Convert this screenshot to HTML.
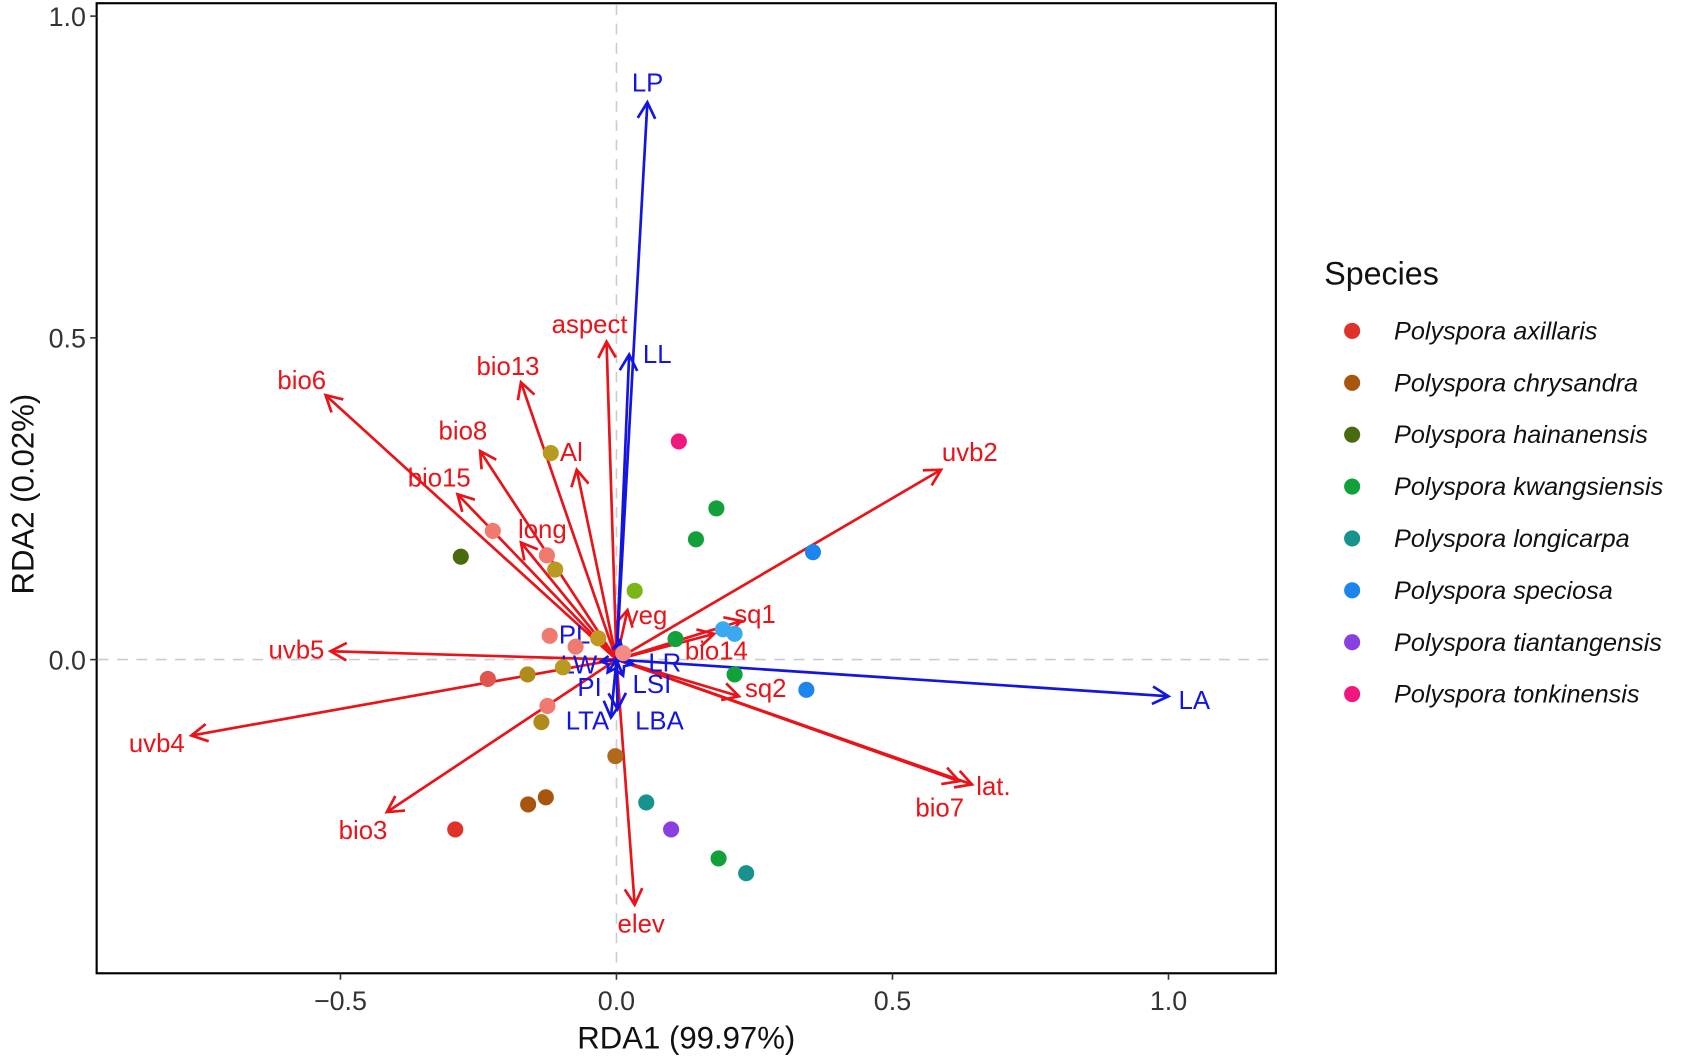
<!DOCTYPE html>
<html><head><meta charset="utf-8"><style>
html,body{margin:0;padding:0;background:#fff;}
svg{display:block;font-family:"Liberation Sans",sans-serif;}
</style></head><body>
<svg id="c" width="1684" height="1056" viewBox="0 0 1568 983" preserveAspectRatio="none" xmlns="http://www.w3.org/2000/svg">
<rect x="90" y="3" width="1098" height="903" fill="#fff" stroke="#000" stroke-width="2"/>
<g id="grid"></g><g id="arrows"></g><g id="pts"></g><g id="axes"></g><g id="legend"></g>
</svg>
<script>
const xTicks=[-0.5,0,0.5,1.0];
const xTickLabels=["\u22120.5","0.0","0.5","1.0"];
const yTicks=[0,0.5,1.0];
const yTickLabels=["0.0","0.5","1.0"];
const redNames=["aspect","bio13","bio6","bio8","bio15","Al","long","uvb5","uvb4","bio3","elev","bio7","lat.","sq2","bio14","sq1","veg","uvb2"];
const redX=[-0.018,-0.173,-0.527,-0.247,-0.288,-0.072,-0.173,-0.518,-0.770,-0.416,0.033,0.621,0.644,0.222,0.177,0.226,0.020,0.588];
const redY=[0.494,0.431,0.411,0.324,0.257,0.295,0.182,0.013,-0.118,-0.237,-0.381,-0.189,-0.194,-0.057,0.040,0.060,0.077,0.295];
const redLabX=[549,473,281,431,409,532,505,276,146,338,597,875,925,713,667,703,602,903];
const redLabY=[302,341,354,401,445,421,493,605,692,773,860,752,732,641,606,572,573,421];
const blueNames=["LP","LL","LA","PL","LW","LR","PI","LSI","LTA","LBA"];
const blueX=[0.056,0.023,1.0,0.006,-0.028,0.030,-0.016,0.012,-0.010,0.002];
const blueY=[0.866,0.474,-0.057,0.030,-0.003,-0.007,-0.020,-0.025,-0.090,-0.077];
const blueLabX=[603,612,1112,535,539,619,549,607,547,614];
const blueLabY=[77,330,652,591,619,617,640,637,671,671];
const species=["Polyspora axillaris","Polyspora chrysandra","Polyspora hainanensis","Polyspora kwangsiensis","Polyspora longicarpa","Polyspora speciosa","Polyspora tiantangensis","Polyspora tonkinensis"];
const speciesColors=["#E0312B","#A8560F","#4A6A10","#12A03A","#17928C","#1C86EE","#8A3FE0","#F0187E"];
const ptX=[-0.224,-0.126,-0.121,-0.074,-0.233,-0.125,0.012,-0.292,-0.002,-0.160,-0.128,-0.136,-0.119,-0.111,-0.033,-0.097,-0.161,-0.282,0.033,0.181,0.144,0.107,0.214,0.185,0.054,0.235,0.356,0.193,0.214,0.344,0.099,0.113];
const ptY=[0.200,0.162,0.037,0.020,-0.030,-0.072,0.010,-0.264,-0.150,-0.225,-0.214,-0.097,0.321,0.140,0.033,-0.012,-0.023,0.160,0.107,0.235,0.187,0.032,-0.023,-0.309,-0.222,-0.332,0.167,0.047,0.040,-0.047,-0.264,0.339];
const ptColor=["#F07A70","#F07A70","#F07A70","#F07A70","#E0554D","#F07A70","#F58B80","#E0312B","#B06A1A","#A8560F","#A8560F","#B08A1A","#B89A20","#B89A20","#C49820","#B89A20","#B08A1A","#4A6A10","#7CB518","#12A03A","#12A03A","#12A03A","#12A03A","#12A03A","#17928C","#17928C","#1C86EE","#3AAAF0","#3AAAF0","#1C86EE","#8A3FE0","#F0187E"];
const X=v=>574+v*514, Y=v=>614-v*599;
const NS="http://www.w3.org/2000/svg";
function mk(t,a,p){const e=document.createElementNS(NS,t);for(const k in a)e.setAttribute(k,a[k]);p.appendChild(e);return e;}
const G=id=>document.getElementById(id);
let l=mk('line',{x1:X(0),x2:X(0),y1:4,y2:905,stroke:'#ccc','stroke-dasharray':'10,8','stroke-width':1.5},G('grid'));


l=mk('line',{x1:91,x2:1187,y1:Y(0),y2:Y(0),stroke:'#ccc','stroke-dasharray':'10,8','stroke-width':1.5},G('grid'));


function arrow(x,y,col,name,lx,ly,sz){
 const g=mk('g',{},G('arrows'));
 
 
 const x0=X(0),y0=Y(0),x1=X(x),y1=Y(y);
 mk('line',{x1:x0,y1:y0,x2:x1,y2:y1,stroke:col,'stroke-width':2.5},g);
 const a=Math.atan2(y1-y0,x1-x0),L=Math.min(17,Math.hypot(x1-x0,y1-y0)*0.6),s=0.5;
 const p=`${x1-L*Math.cos(a-s)},${y1-L*Math.sin(a-s)} ${x1},${y1} ${x1-L*Math.cos(a+s)},${y1-L*Math.sin(a+s)}`;
 mk('polyline',{points:p,fill:'none',stroke:col,'stroke-width':2.5},g);
 const t=mk('text',{x:lx,y:ly+8,fill:col,'font-size':sz,'text-anchor':'middle'},g);
 t.textContent=name;
}
redNames.forEach((n,i)=>arrow(redX[i],redY[i],'#E8141A',n,redLabX[i],redLabY[i],24));
blueNames.forEach((n,i)=>arrow(blueX[i],blueY[i],'#1515E0',n,blueLabX[i],blueLabY[i],24));
ptX.forEach((v,i)=>{const c=mk('circle',{cx:X(v),cy:Y(ptY[i]),r:7.5,fill:ptColor[i]},G('pts'));
 
 });
xTicks.forEach((v,i)=>{mk('line',{x1:X(v),x2:X(v),y1:906,y2:912,stroke:'#333','stroke-width':1.5},G('axes'));
 const t=mk('text',{x:X(v),y:940,'font-size':25,fill:'#333','text-anchor':'middle'},G('axes'));
 
 
 t.textContent=xTickLabels[i];});
yTicks.forEach((v,i)=>{mk('line',{x1:84,x2:90,y1:Y(v),y2:Y(v),stroke:'#333','stroke-width':1.5},G('axes'));
 const t=mk('text',{x:80,y:Y(v)+9,'font-size':25,fill:'#333','text-anchor':'end'},G('axes'));
 
 
 t.textContent=yTickLabels[i];});
let t=mk('text',{x:639,y:976,'font-size':29,'text-anchor':'middle',fill:'#111'},G('axes'));


t.textContent='RDA1 (99.97%)';
t=mk('text',{x:0,y:0,'font-size':29,'text-anchor':'middle',fill:'#111',transform:'translate(31,460) rotate(-90)'},G('axes'));


t.textContent='RDA2 (0.02%)';
t=mk('text',{x:1233,y:265,'font-size':30,fill:'#111'},G('legend'));


t.textContent='Species';
species.forEach((s,i)=>{const y=308+i*48.3;
 const g=mk('g',{},G('legend'));
 
 
 mk('circle',{cx:1259,cy:y,r:7.5,fill:speciesColors[i]},g);
 const tt=mk('text',{x:1298,y:y+8,'font-size':23.5,'font-style':'italic',fill:'#111'},g);
 tt.textContent=s;});
</script>
</body></html>
